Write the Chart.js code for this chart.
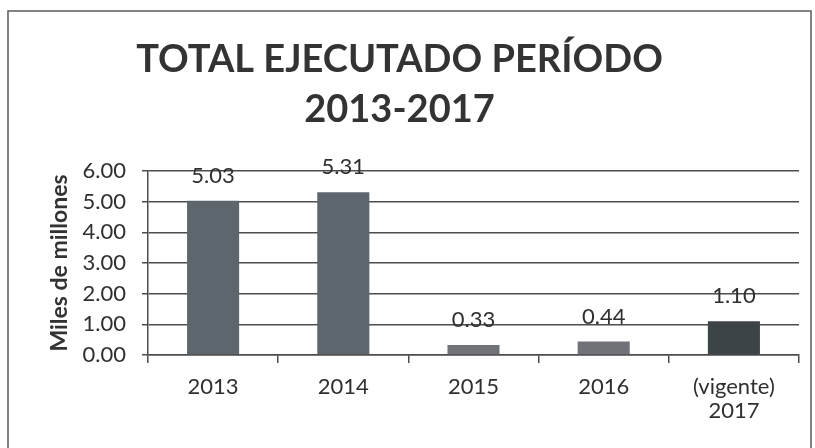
<!DOCTYPE html>
<html>
<head>
<meta charset="utf-8">
<script src="https://cdn.jsdelivr.net/npm/chart.js@4/dist/chart.umd.min.js"></script>
<style>
  html, body { margin: 0; padding: 0; background: #ffffff; }
  #wrap { width: 815px; height: 448px; position: relative; }
</style>
</head>
<body>
<div id="wrap"><canvas id="c" width="815" height="448"></canvas></div>
<script>
const categories = [["2013"], ["2014"], ["2015"], ["2016"], ["(vigente)", "2017"]];
const values = [5.03, 5.31, 0.33, 0.44, 1.10];
const valueLabels = ["5.03", "5.31", "0.33", "0.44", "1.10"];
const barColors = ["#5e666d", "#5e666d", "#6f7377", "#6f7377", "#3d4448"];
const titleLines = ["TOTAL EJECUTADO PERÍODO", "2013-2017"];
const yAxisTitle = "Miles de millones";

const textColor = "#2f2f2f";
const gridColor = "#4d4d4d";

const frame = {
  id: "frame",
  beforeDraw(chart) {
    const ctx = chart.ctx;
    ctx.save();
    ctx.fillStyle = "#ffffff";
    ctx.fillRect(0, 0, chart.width, chart.height);
    ctx.strokeStyle = "#5a5a5a";
    ctx.lineWidth = 1.5;
    ctx.strokeRect(8, 11, 803, 470);
    ctx.restore();
  }
};

const valueLabelPlugin = {
  id: "valueLabels",
  afterDatasetsDraw(chart) {
    const ctx = chart.ctx;
    const meta = chart.getDatasetMeta(0);
    ctx.save();
    ctx.font = "22px Lato";
    ctx.fillStyle = textColor;
    ctx.textAlign = "center";
    ctx.textBaseline = "middle";
    meta.data.forEach((el, i) => {
      ctx.fillText(valueLabels[i], el.x, el.y - 25);
    });
    ctx.restore();
  }
};

new Chart(document.getElementById("c"), {
  type: "bar",
  data: {
    labels: categories,
    datasets: [{
      data: values,
      backgroundColor: barColors,
      borderWidth: 0,
      barPercentage: 0.4,
      categoryPercentage: 1.0
    }]
  },
  options: {
    responsive: false,
    animation: false,
    events: [],
    layout: { padding: { left: 0, right: 16, top: 0, bottom: 0 } },
    plugins: {
      legend: { display: false },
      tooltip: { enabled: false },
      title: {
        display: true,
        text: titleLines,
        color: "#333333",
        font: { family: "Lato", size: 38, weight: "bold", lineHeight: 1.3158 },
        padding: { top: 35, bottom: 36 }
      }
    },
    scales: {
      x: {
        grid: {
          display: true,
          drawOnChartArea: false,
          drawTicks: true,
          tickLength: 8,
          color: gridColor,
          lineWidth: 1.5
        },
        border: { display: true, color: gridColor, width: 1.5 },
        ticks: {
          color: textColor,
          font: { family: "Lato", size: 22, lineHeight: 1.1 },
          padding: 12,
          maxRotation: 0,
          autoSkip: false
        },
        afterFit(scale) { scale.height = 93; }
      },
      y: {
        min: 0,
        max: 6,
        ticks: {
          stepSize: 1,
          color: textColor,
          font: { family: "Lato", size: 22 },
          padding: 16,
          callback: (v) => Number(v).toFixed(2)
        },
        grid: {
          color: gridColor,
          lineWidth: 1.5,
          drawTicks: true,
          tickLength: 6
        },
        border: { display: true, color: gridColor, width: 1.5 },
        title: {
          display: true,
          text: yAxisTitle,
          color: "#333333",
          font: { family: "Lato", size: 23, weight: "bold", lineHeight: 1.2 },
          padding: { top: 46, bottom: 0 }
        },
        afterFit(scale) { scale.width = 148; }
      }
    }
  },
  plugins: [frame, valueLabelPlugin]
});
</script>
</body>
</html>
